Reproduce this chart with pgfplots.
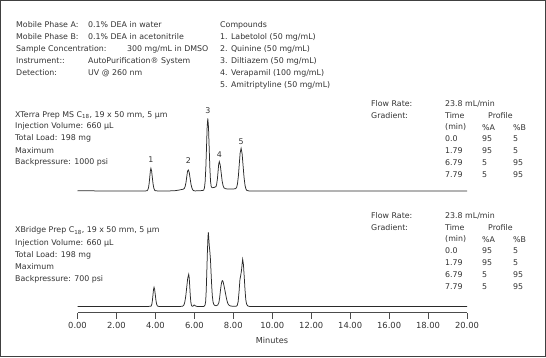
\documentclass[border=0pt]{standalone}
\usepackage{pgfplots}
\pgfplotsset{compat=1.18}
\usepackage{fontspec}
\setmainfont{DejaVu Sans}
\definecolor{txt}{HTML}{333333}
\definecolor{trace}{HTML}{2A2A2A}
\pgfplotstableread{
t y
0 121.8
1.0 121.6
2.0 121.5
3.0 121.6
3.5 121.6
3.57 121.8
3.61 122.6
3.645 124.8
3.68 129.3
3.71 135.3
3.74 141.5
3.77 144.2
3.805 141.5
3.84 135.3
3.88 128.6
3.92 124.3
3.96 122.3
4.0 121.8
4.1 121.6
4.6 121.5
5.0 121.8
5.2 122.4
5.35 123.0
5.43 123.3
5.48 124.0
5.525 125.9
5.57 129.9
5.61 135.8
5.65 141.3
5.69 142.5
5.735 140.2
5.78 134.4
5.83 128.0
5.88 124.2
5.93 122.3
5.98 121.7
6.05 121.6
6.15 121.7
6.3 121.8
6.43 122.0
6.48 122.4
6.52 124.7
6.555 131.3
6.59 145.1
6.625 165.6
6.6575 185.7
6.69 194.2
6.725 185.7
6.76 165.6
6.795 145.1
6.83 131.3
6.865 126.0
6.9 125.0
6.94 124.8
7.02 125.1
7.11 125.8
7.145 128.3
7.18 133.0
7.215 140.5
7.2475 148.0
7.28 150.8
7.33 147.4
7.38 139.3
7.43 131.0
7.48 126.5
7.53 124.5
7.6 123.8
7.7 123.5
7.8 123.5
7.9 123.5
8.0 123.5
8.12 123.9
8.17 125.1
8.215 128.7
8.26 136.4
8.305 147.9
8.35 159.4
8.40 164.2
8.45 159.2
8.50 147.4
8.55 135.4
8.60 127.3
8.65 123.4
8.70 122.0
8.8 121.6
9.0 121.5
10.0 121.5
12 121.5
15 121.5
18 121.5
20 121.5
}\xterra
\pgfplotstableread{
t y
0 6.0
2 6.0
3.5 6.0
3.76 6.2
3.79 6.8
3.82 8.6
3.8475 12.2
3.875 17.6
3.9025 22.9
3.93 25.2
3.9625 22.9
3.995 17.6
4.0275 12.2
4.06 8.6
4.095 6.8
4.13 6.2
4.25 6.0
5.0 6.0
5.3 6.1
5.41 6.4
5.46 7.4
5.51 10.4
5.56 16.5
5.61 25.5
5.66 34.4
5.71 38.2
5.7375 34.4
5.765 25.5
5.7925 16.5
5.82 10.4
5.8475 7.4
5.875 6.4
5.93 6.3
5.97 7.3
6.0 7.5
6.04 6.8
6.1 6.2
6.2 6.0
6.45 6.0
6.50 6.2
6.55 7.5
6.58 11
6.61 22
6.64 41
6.67 61
6.70 76
6.72 80.2
6.74 74
6.77 66
6.80 60
6.83 52
6.86 39
6.89 27
6.92 17
6.96 10.5
7.0 8.0
7.06 7.0
7.12 6.8
7.2 7.5
7.26 10
7.3 15
7.34 22
7.38 28
7.42 31.5
7.45 31.8
7.48 30.5
7.52 27
7.56 23
7.60 19
7.64 15
7.68 11.5
7.72 9
7.78 7.3
7.86 6.5
7.95 6.3
8.05 6.3
8.15 6.3
8.2 7.0
8.25 11
8.30 22
8.34 33
8.38 37
8.42 42
8.46 50
8.48 53.2
8.52 48
8.56 36
8.60 23
8.64 13
8.68 8.5
8.74 6.6
8.85 6.0
10 6.0
15 6.0
20 6.0
}\xbridge
\begin{document}
\begin{tikzpicture}[x=1bp,y=1bp,font=\fontsize{7.9}{9.4}\selectfont,
  lbl/.style={anchor=west,inner sep=0pt,text=txt}]
\useasboundingbox (0,0) rectangle (546,357);
\fill[white] (0,0) rectangle (546,357);
\draw[black!75,line width=1bp] (0.5,0.5) rectangle (545.5,356.5);
\begin{axis}[
  at={(77.5bp,44.5bp)}, anchor=south west,
  scale only axis, width=389.5bp, height=212.5bp,
  xmin=0, xmax=20, ymin=0, ymax=212.5,
  axis x line=bottom, axis y line=none,
  x axis line style={-, black!70, line width=0.8bp},
  xtick={0,2,...,20}, tick align=outside, major tick length=6bp,
  x tick style={black!70, line width=0.8bp},
  xticklabel style={text=txt, font=\fontsize{8.4}{10}\selectfont, inner sep=1pt, yshift=-2.5bp},
  /pgf/number format/.cd, fixed, fixed zerofill, precision=2, assume math mode=true,
  /pgfplots/.cd,
  clip=false,
]
\addplot[trace, line width=0.75bp] table[x=t,y=y] {\xterra};
\addplot[trace, line width=0.75bp] table[x=t,y=y] {\xbridge};
\node[text=txt] at (axis cs:3.77,152.5) {1};
\node[text=txt] at (axis cs:5.69,151.5) {2};
\node[text=txt] at (axis cs:6.69,201.5) {3};
\node[text=txt] at (axis cs:7.28,157.5) {4};
\node[text=txt] at (axis cs:8.40,170.5) {5};
\end{axis}
% header block
\node[lbl] at (16,{357-25}) {Mobile Phase A:};
\node[lbl] at (88,{357-25}) {0.1\% DEA in water};
\node[lbl] at (16,{357-37}) {Mobile Phase B:};
\node[lbl] at (88,{357-37}) {0.1\% DEA in acetonitrile};
\node[lbl] at (16,{357-49}) {Sample Concentration:};
\node[lbl] at (127,{357-49}) {300 mg/mL in DMSO};
\node[lbl] at (16,{357-61}) {Instrument::};
\node[lbl] at (88,{357-61}) {AutoPurification® System};
\node[lbl] at (16,{357-73}) {Detection:};
\node[lbl] at (88,{357-73}) {UV @ 260 nm};
\node[lbl] at (220,{357-25}) {Compounds};
\node[lbl] at (220,{357-37}) {1. Labetolol (50 mg/mL)};
\node[lbl] at (220,{357-49}) {2. Quinine (50 mg/mL)};
\node[lbl] at (220,{357-61}) {3. Diltiazem (50 mg/mL)};
\node[lbl] at (220,{357-73}) {4. Verapamil (100 mg/mL)};
\node[lbl] at (220,{357-85}) {5. Amitriptyline (50 mg/mL)};
% upper column block
\node[lbl] at (15,{357-115}) {XTerra Prep MS C\textsubscript{18}, 19 x 50 mm, 5 µm};
\node[lbl] at (15,{357-126.7}) {Injection Volume: 660 µL};
\node[lbl] at (15,{357-138.5}) {Total Load: 198 mg};
\node[lbl] at (15,{357-150.2}) {Maximum};
\node[lbl] at (15,{357-162.2}) {Backpressure: 1000 psi};
% lower column block
\node[lbl] at (15,{357-230.7}) {XBridge Prep C\textsubscript{18}, 19 x 50 mm, 5 µm};
\node[lbl] at (15,{357-243}) {Injection Volume: 660 µL};
\node[lbl] at (15,{357-255}) {Total Load: 198 mg};
\node[lbl] at (15,{357-267}) {Maximum};
\node[lbl] at (15,{357-279}) {Backpressure: 700 psi};
% gradient tables
\foreach \oy in {0,112} {
  \node[lbl] at (371,{357-104-\oy}) {Flow Rate:};
  \node[lbl] at (445,{357-104-\oy}) {23.8 mL/min};
  \node[lbl] at (371,{357-115.7-\oy}) {Gradient:};
  \node[lbl] at (445,{357-115.7-\oy}) {Time};
  \node[lbl] at (488,{357-115.7-\oy}) {Profile};
  \node[lbl] at (445,{357-127.4-\oy}) {(min)};
  \node[lbl] at (482,{357-127.4-\oy}) {\%A};
  \node[lbl] at (513,{357-127.4-\oy}) {\%B};
  \node[lbl] at (445,{357-139.1-\oy}) {0.0};
  \node[lbl] at (482,{357-139.1-\oy}) {95};
  \node[lbl] at (513,{357-139.1-\oy}) {5};
  \node[lbl] at (445,{357-150.8-\oy}) {1.79};
  \node[lbl] at (482,{357-150.8-\oy}) {95};
  \node[lbl] at (513,{357-150.8-\oy}) {5};
  \node[lbl] at (445,{357-162.5-\oy}) {6.79};
  \node[lbl] at (482,{357-162.5-\oy}) {5};
  \node[lbl] at (513,{357-162.5-\oy}) {95};
  \node[lbl] at (445,{357-174.2-\oy}) {7.79};
  \node[lbl] at (482,{357-174.2-\oy}) {5};
  \node[lbl] at (513,{357-174.2-\oy}) {95};
}
\node[text=txt,inner sep=0pt,font=\fontsize{8.2}{10}\selectfont] at (272,{357-340}) {Minutes};
\end{tikzpicture}
\end{document}
